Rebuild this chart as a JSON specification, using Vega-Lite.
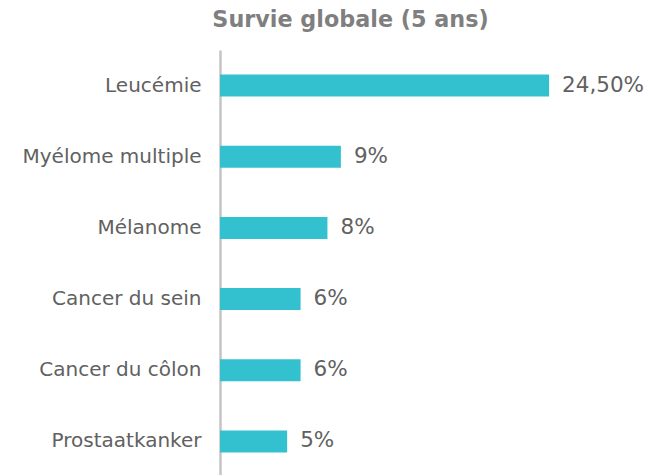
{
  "$schema": "https://vega.github.io/schema/vega-lite/v6.json",
  "autosize": "none",
  "width": 429,
  "height": 427,
  "padding": {"left": 220, "top": 50, "right": 0, "bottom": 0},
  "background": "white",
  "title": {
    "text": "Survie globale (5 ans)",
    "font": "DejaVu Sans",
    "fontSize": 22.3,
    "fontWeight": "bold",
    "color": "#7f7f7f",
    "anchor": "middle",
    "dx": -84,
    "baseline": "alphabetic",
    "offset": 1
  },
  "data": {
    "values": [
      {"cancer": "Leucémie", "survie": 24.5, "label": "24,50%"},
      {"cancer": "Myélome multiple", "survie": 9, "label": "9%"},
      {"cancer": "Mélanome", "survie": 8, "label": "8%"},
      {"cancer": "Cancer du sein", "survie": 6, "label": "6%"},
      {"cancer": "Cancer du côlon", "survie": 6, "label": "6%"},
      {"cancer": "Prostaatkanker", "survie": 5, "label": "5%"}
    ]
  },
  "encoding": {
    "y": {
      "field": "cancer",
      "type": "nominal",
      "sort": null,
      "scale": {"paddingInner": 0.69, "paddingOuter": 0.345},
      "axis": {
        "title": null,
        "ticks": false,
        "tickSize": 0,
        "labelPadding": 19,
        "labelFont": "DejaVu Sans",
        "labelFontSize": 20,
        "labelColor": "#616161",
        "domainColor": "#c4c4c4",
        "domainWidth": 2.5,
        "grid": false
      }
    },
    "x": {
      "field": "survie",
      "type": "quantitative",
      "scale": {"domain": [0, 31.94], "nice": false},
      "axis": null
    }
  },
  "layer": [
    {"mark": {"type": "bar", "color": "#34c1cf"}},
    {
      "mark": {
        "type": "text",
        "align": "left",
        "baseline": "middle",
        "dx": 13,
        "font": "DejaVu Sans",
        "fontSize": 21.5,
        "color": "#616161"
      },
      "encoding": {"text": {"field": "label"}}
    }
  ],
  "config": {"view": {"stroke": null}}
}
